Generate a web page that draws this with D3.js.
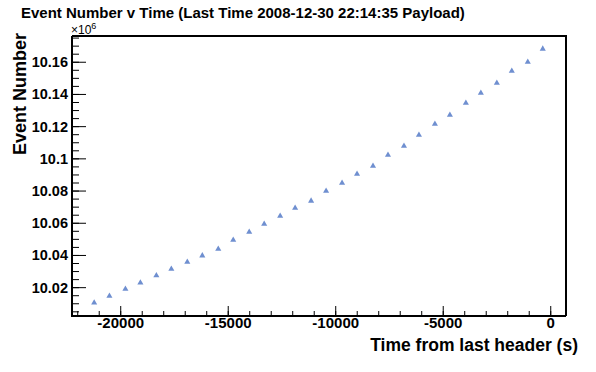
<!DOCTYPE html>
<html>
<head>
<meta charset="utf-8">
<script src="https://d3js.org/d3.v7.min.js"></script>
<style>
  body { margin: 0; background: #fff; }
  text { font-family: "Liberation Sans", Arial, Helvetica, sans-serif; }
</style>
</head>
<body>
<div id="graph"></div>
<script>
//setting dimension
var width = 596,
    height = 372;

// frame edges in pixels
var fLeft = 72, fRight = 566, fTop = 36, fBottom = 316;

//data (time in s, event number)
var times = [-21235, -20525, -19782, -19085, -18342, -17646, -16903, -16206, -15463, -14767,
             -14024, -13327, -12584, -11888, -11145, -10448, -9705, -9009, -8266, -7569,
             -6826, -6130, -5387, -4690, -3947, -3250, -2507, -1811, -1068, -371];
var events = [10010700, 10014800, 10019200, 10023100, 10027500, 10031600, 10036000, 10039900, 10044000, 10049600,
              10054600, 10059600, 10064500, 10069500, 10073900, 10080100, 10085000, 10090600, 10095600, 10102400,
              10108000, 10114800, 10121700, 10127300, 10134700, 10140900, 10147100, 10154600, 10160200, 10168300];

var xMajor = [-20000, -15000, -10000, -5000, 0];
var yMajor = [10020000, 10040000, 10060000, 10080000, 10100000, 10120000, 10140000, 10160000];
var xMinorStep = 1000;
var yMinorStep = 5000;

var titleText = "Event Number v Time (Last Time 2008-12-30 22:14:35 Payload)";
var xTitle = "Time from last header (s)";
var yTitle = "Event Number";

var svg = d3.select("div#graph")
          .append("svg")
          .attr("width", width)
          .attr("height", height);

var x = d3.scaleLinear().domain([-22266, 710]).range([fLeft, fRight]);
var y = d3.scaleLinear().domain([10002400, 10176300]).range([fBottom, fTop]);

// minor ticks
var xMinor = d3.range(-22000, 1, xMinorStep);
var yMinor = d3.range(10005000, 10176000, yMinorStep);

//x axis (ticks point inward, up)
var xAxis = svg.append("g")
          .attr("transform", "translate(0," + fBottom + ")");
xAxis.selectAll("line.minor")
    .data(xMinor)
    .enter()
    .append("line")
    .attr("class", "minor")
    .attr("x1", function(d){ return x(d); })
    .attr("x2", function(d){ return x(d); })
    .attr("y1", 0)
    .attr("y2", -5)
    .attr("stroke", "black");
xAxis.selectAll("line.major")
    .data(xMajor)
    .enter()
    .append("line")
    .attr("class", "major")
    .attr("x1", function(d){ return x(d); })
    .attr("x2", function(d){ return x(d); })
    .attr("y1", 0)
    .attr("y2", -10)
    .attr("stroke", "black");
xAxis.selectAll("text")
    .data(xMajor)
    .enter()
    .append("text")
    .attr("x", function(d){ return x(d); })
    .attr("y", 12)
    .attr("text-anchor", "middle")
    .style("font-size", "15px")
    .style("font-weight", "bold")
    .text(function(d){ return d; });

//y axis (ticks point inward, right)
var yAxis = svg.append("g")
          .attr("transform", "translate(" + fLeft + ",0)");
yAxis.selectAll("line.minor")
    .data(yMinor)
    .enter()
    .append("line")
    .attr("class", "minor")
    .attr("y1", function(d){ return y(d); })
    .attr("y2", function(d){ return y(d); })
    .attr("x1", 0)
    .attr("x2", 7)
    .attr("stroke", "black");
yAxis.selectAll("line.major")
    .data(yMajor)
    .enter()
    .append("line")
    .attr("class", "major")
    .attr("y1", function(d){ return y(d); })
    .attr("y2", function(d){ return y(d); })
    .attr("x1", 0)
    .attr("x2", 14)
    .attr("stroke", "black");
yAxis.selectAll("text")
    .data(yMajor)
    .enter()
    .append("text")
    .attr("x", -4)
    .attr("y", function(d){ return y(d) + 5; })
    .attr("text-anchor", "end")
    .style("font-size", "14.5px")
    .style("font-weight", "bold")
    .text(function(d){ return String(+(d / 1e6).toFixed(2)); });

// frame
svg.append("line")
    .attr("x1", fLeft).attr("x2", fRight + 1)
    .attr("y1", fTop).attr("y2", fTop)
    .attr("stroke", "black").attr("stroke-width", 2);
svg.append("line")
    .attr("x1", fRight).attr("x2", fRight)
    .attr("y1", fTop).attr("y2", fBottom)
    .attr("stroke", "black").attr("stroke-width", 2);
svg.append("line")
    .attr("x1", fLeft).attr("x2", fRight)
    .attr("y1", fBottom).attr("y2", fBottom)
    .attr("stroke", "black").attr("stroke-width", 2);
svg.append("line")
    .attr("x1", fLeft).attr("x2", fLeft)
    .attr("y1", fTop).attr("y2", fBottom + 1)
    .attr("stroke", "black").attr("stroke-width", 2);

// points
var tri = d3.symbol().type(d3.symbolTriangle).size(16);
svg.append("g")
    .selectAll("path")
    .data(times)
    .enter()
    .append("path")
    .attr("d", tri)
    .attr("transform", function(d, i){ return "translate(" + x(d) + "," + y(events[i]) + ")"; })
    .attr("fill", "#6f8fd0");

// exponent
var expo = svg.append("text")
    .attr("x", 71)
    .attr("y", 34)
    .style("font-size", "12px");
expo.append("tspan").text("\u00d710");
expo.append("tspan").attr("dy", -5).style("font-size", "9px").text("6");

// titles
svg.append("text")
    .attr("x", 21)
    .attr("y", 18)
    .style("font-size", "15px")
    .style("font-weight", "bold")
    .text(titleText);

svg.append("text")
    .attr("x", 578)
    .attr("y", 351)
    .attr("text-anchor", "end")
    .style("font-size", "17.5px")
    .style("font-weight", "bold")
    .text(xTitle);

svg.append("text")
    .attr("transform", "translate(26,33) rotate(-90)")
    .attr("text-anchor", "end")
    .style("font-size", "18px")
    .style("font-weight", "bold")
    .text(yTitle);
</script>
</body>
</html>
